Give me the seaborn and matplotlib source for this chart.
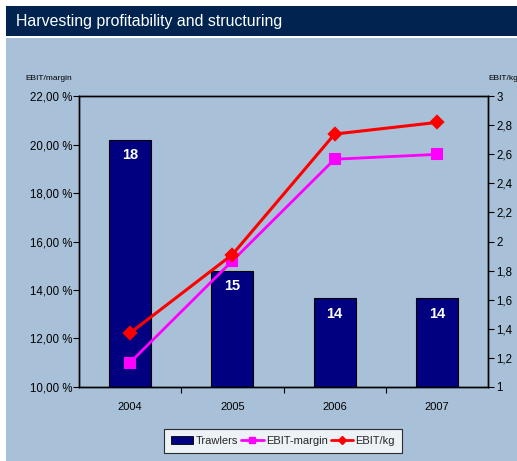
import matplotlib
matplotlib.use("Agg")
import matplotlib.pyplot as plt
import matplotlib.patches as mpatches
from matplotlib.lines import Line2D
from matplotlib.ticker import FuncFormatter, FixedLocator
import seaborn as sns
import pandas as pd

# ---- data ----
years = ["2004", "2005", "2006", "2007"]
trawlers = [18, 15, 14, 14]                      # bar labels
trawler_bar_height = [20.2, 14.8, 13.65, 13.65]  # bar tops, read on the left axis (%)
ebit_margin = [11.0, 15.2, 19.4, 19.6]           # % (left axis)
ebit_kg = [1.37, 1.91, 2.74, 2.82]               # right axis

sns.set_theme(style="white")
plt.rcParams["font.family"] = ["Liberation Sans", "DejaVu Sans"]

W, H = 517, 461
fig = plt.figure(figsize=(W / 100, H / 100), dpi=100)
fig.patch.set_facecolor("white")

BG = "#a9c1d8"
NAVY_TITLE = "#00244f"

# background panels
fig.patches.append(mpatches.Rectangle((5.5 / W, 0), 1, 1 - 38.5 / H, transform=fig.transFigure,
                                      facecolor=BG, edgecolor="none", zorder=-10))
fig.patches.append(mpatches.Rectangle((5.5 / W, 1 - 36.5 / H), 1, 30.5 / H, transform=fig.transFigure,
                                      facecolor=NAVY_TITLE, edgecolor="none", zorder=-10))
fig.text(16 / W, 1 - 21.5 / H, "Harvesting profitability and structuring", color="white",
         fontsize=11.4, va="center", ha="left")

ax = fig.add_axes([79 / W, 1 - 386.7 / H, (488 - 79) / W, (386.7 - 96.3) / H])
ax.set_facecolor("none")

df = pd.DataFrame({"year": years, "height": trawler_bar_height,
                   "margin": ebit_margin, "kg": ebit_kg, "trawlers": trawlers})

sns.barplot(data=df, x="year", y="height", ax=ax, color="#000080", width=0.41,
            edgecolor="black", linewidth=0.8, saturation=1)
ax.bar_label(ax.containers[0], labels=[str(t) for t in trawlers], padding=-16,
             color="white", fontsize=10.5, fontweight="bold")

sns.pointplot(data=df, x="year", y="margin", ax=ax, color="#ff00ff", markers="s",
              markersize=7.5, linewidth=2, errorbar=None)

ax.set_ylim(10, 22)
ax.set_xlim(-0.5, 3.5)
ax.set_yticks([10, 12, 14, 16, 18, 20, 22])
ax.yaxis.set_major_formatter(FuncFormatter(lambda v, p: f"{v:.2f}".replace(".", ",") + " %"))
ax.set_xlabel("")
ax.set_ylabel("")

ax2 = ax.twinx()
sns.pointplot(data=df, x="year", y="kg", ax=ax2, color="#ff0000", markers="D",
              markersize=6.5, linewidth=2.2, errorbar=None)
ax2.set_ylim(1, 3)
ax2.set_xlim(-0.5, 3.5)
ax2.set_yticks([1, 1.2, 1.4, 1.6, 1.8, 2, 2.2, 2.4, 2.6, 2.8, 3])
ax2.yaxis.set_major_formatter(FuncFormatter(lambda v, p: (f"{v:.1f}".rstrip("0").rstrip(".")).replace(".", ",")))
ax2.set_ylabel("")
ax2.set_xlabel("")

for a in (ax, ax2):
    for s in a.spines.values():
        s.set_visible(True)
        s.set_color("black")
        s.set_linewidth(1.0)

ax.tick_params(axis="y", which="major", direction="out", length=4, width=0.8, color="black",
               labelsize=8.3, labelcolor="black", pad=1, left=True)
ax2.tick_params(axis="y", which="major", direction="out", length=4, width=0.8, color="black",
                labelsize=8.3, labelcolor="black", pad=2, right=True)
ax.xaxis.set_minor_locator(FixedLocator([0.5, 1.5, 2.5]))
ax.tick_params(axis="x", which="major", length=0, labelsize=8, labelcolor="black", pad=11)
ax.tick_params(axis="x", which="minor", direction="out", length=4, width=0.8, color="black", bottom=True)

fig.text(25 / W, 1 - 78 / H, "EBIT/margin", fontsize=6, color="black", va="center", ha="left")
fig.text(488 / W, 1 - 78 / H, "EBIT/kg", fontsize=6, color="black", va="center", ha="left")

handles = [
    mpatches.Patch(facecolor="#000080", edgecolor="black", linewidth=0.6, label="Trawlers"),
    Line2D([0], [0], color="#ff00ff", marker="s", markersize=5, linewidth=2, label="EBIT-margin"),
    Line2D([0], [0], color="#ff0000", marker="D", markersize=4, linewidth=2, label="EBIT/kg"),
]
leg = fig.legend(handles=handles, loc="center", bbox_to_anchor=(283 / W, 1 - 441 / H), ncol=3,
                 frameon=True, fancybox=False, fontsize=8, handlelength=2.0, handletextpad=0.2,
                 columnspacing=0.3, borderpad=0.6, borderaxespad=0)
leg.get_frame().set_facecolor("white")
leg.get_frame().set_edgecolor("black")
leg.get_frame().set_linewidth(0.8)

fig.savefig("out.png", dpi=100)
